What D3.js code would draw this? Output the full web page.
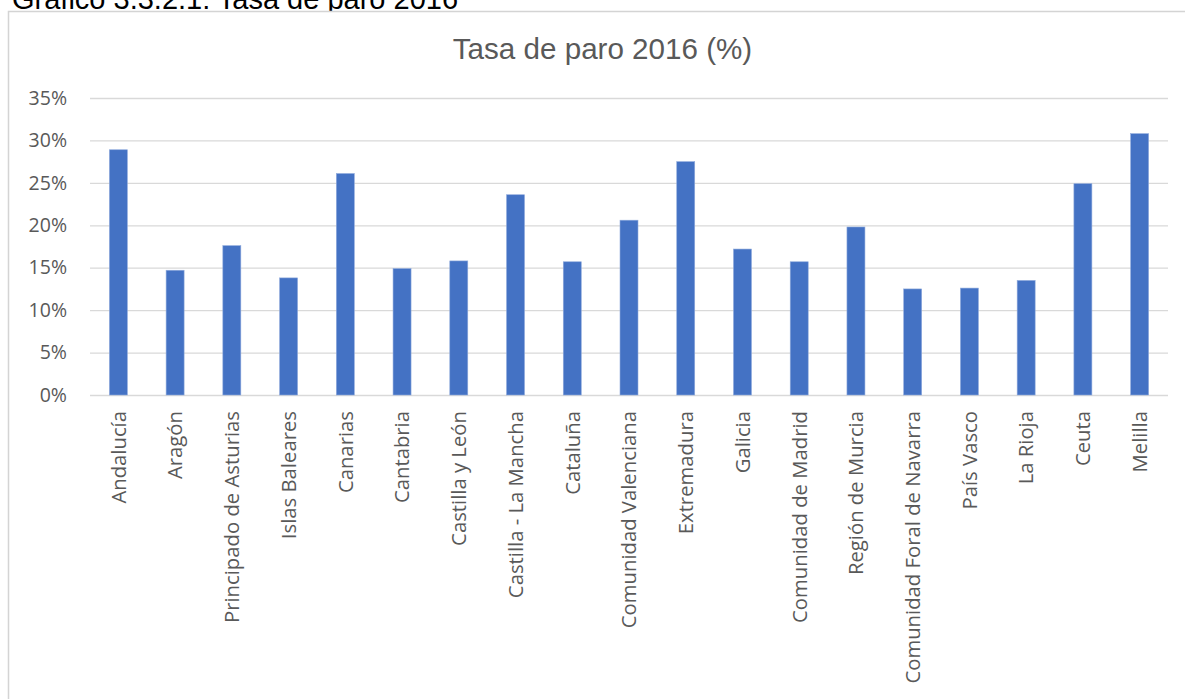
<!DOCTYPE html>
<html>
<head>
<meta charset="utf-8">
<script src="https://cdn.jsdelivr.net/npm/d3@7/dist/d3.min.js"></script>
<style>
  html, body { margin: 0; padding: 0; background: #fff; }
  svg { display: block; }
</style>
</head>
<body>
<svg id="chart" width="1185" height="699"></svg>
<script>
const categories = ["Andalucía","Aragón","Principado de Asturias","Islas Baleares","Canarias","Cantabria","Castilla y León","Castilla - La Mancha","Cataluña","Comunidad Valenciana","Extremadura","Galicia","Comunidad de Madrid","Región de Murcia","Comunidad Foral de Navarra","País Vasco","La Rioja","Ceuta","Melilla"];
const values = [28.9, 14.7, 17.6, 13.8, 26.1, 14.9, 15.8, 23.6, 15.7, 20.6, 27.5, 17.2, 15.7, 19.8, 12.5, 12.6, 13.5, 24.9, 30.8];
const yTicks = [0, 5, 10, 15, 20, 25, 30, 35];
const captionText = "Gráfico 3.3.2.1: Tasa de paro 2016";
const titleText = "Tasa de paro 2016 (%)";

const svg = d3.select("#chart");
const W = 1185, H = 699;
const plot = { left: 90, right: 1168, top: 98, bottom: 395 };

// caption (cut off at top, as in the source page)
svg.append("text")
  .attr("x", 12).attr("y", 9)
  .attr("font-family", "Liberation Sans, Arial, sans-serif")
  .attr("font-size", 29)
  .attr("fill", "#000")
  .text(captionText);

// chart frame
svg.append("rect")
  .attr("x", 8.5).attr("y", 11.5)
  .attr("width", W + 10).attr("height", H + 10)
  .attr("fill", "#fff")
  .attr("stroke", "#d4d4d4")
  .attr("stroke-width", 1.5);

// title
svg.append("text")
  .attr("x", 602.5).attr("y", 59)
  .attr("text-anchor", "middle")
  .attr("font-family", "Liberation Sans, Arial, sans-serif")
  .attr("font-size", 29.6)
  .attr("fill", "#595959")
  .text(titleText);

const x = d3.scaleBand()
  .domain(categories)
  .range([plot.left, plot.right])
  .paddingInner(0.683)
  .paddingOuter(0.3415);

const y = d3.scaleLinear()
  .domain([0, 35])
  .range([plot.bottom, plot.top]);

// gridlines + y labels
const yAxis = d3.axisLeft(y)
  .tickValues(yTicks)
  .tickSize(-(plot.right - plot.left))
  .tickPadding(23)
  .tickFormat(d => d + "%");

const gy = svg.append("g")
  .attr("transform", `translate(${plot.left},0)`)
  .call(yAxis);
gy.select(".domain").remove();
gy.selectAll(".tick line").attr("stroke", "#d9d9d9").attr("stroke-width", 1.3);
gy.selectAll(".tick text")
  .attr("font-family", "Open Sans, sans-serif")
  .attr("font-size", 19.5)
  .attr("fill", "#595959");

// bars
svg.append("g").selectAll("rect")
  .data(values)
  .join("rect")
  .attr("x", (d, i) => x(categories[i]))
  .attr("y", d => y(d))
  .attr("width", x.bandwidth())
  .attr("height", d => y(0) - y(d))
  .attr("fill", "#4472c4")
  .attr("stroke", "#8faadc")
  .attr("stroke-width", 0.6);

// x axis labels
const xAxis = d3.axisBottom(x).tickSize(0).tickPadding(0);
const gx = svg.append("g")
  .attr("transform", `translate(0,${plot.bottom})`)
  .call(xAxis);
gx.select(".domain").remove();
gx.selectAll(".tick text")
  .attr("font-family", "Open Sans, sans-serif")
  .attr("font-size", 20.3)
  .attr("fill", "#595959")
  .attr("text-anchor", "end")
  .attr("transform", "translate(0,16) rotate(-90)")
  .attr("x", 0).attr("y", 0)
  .attr("dy", "0.36em");
</script>
</body>
</html>
